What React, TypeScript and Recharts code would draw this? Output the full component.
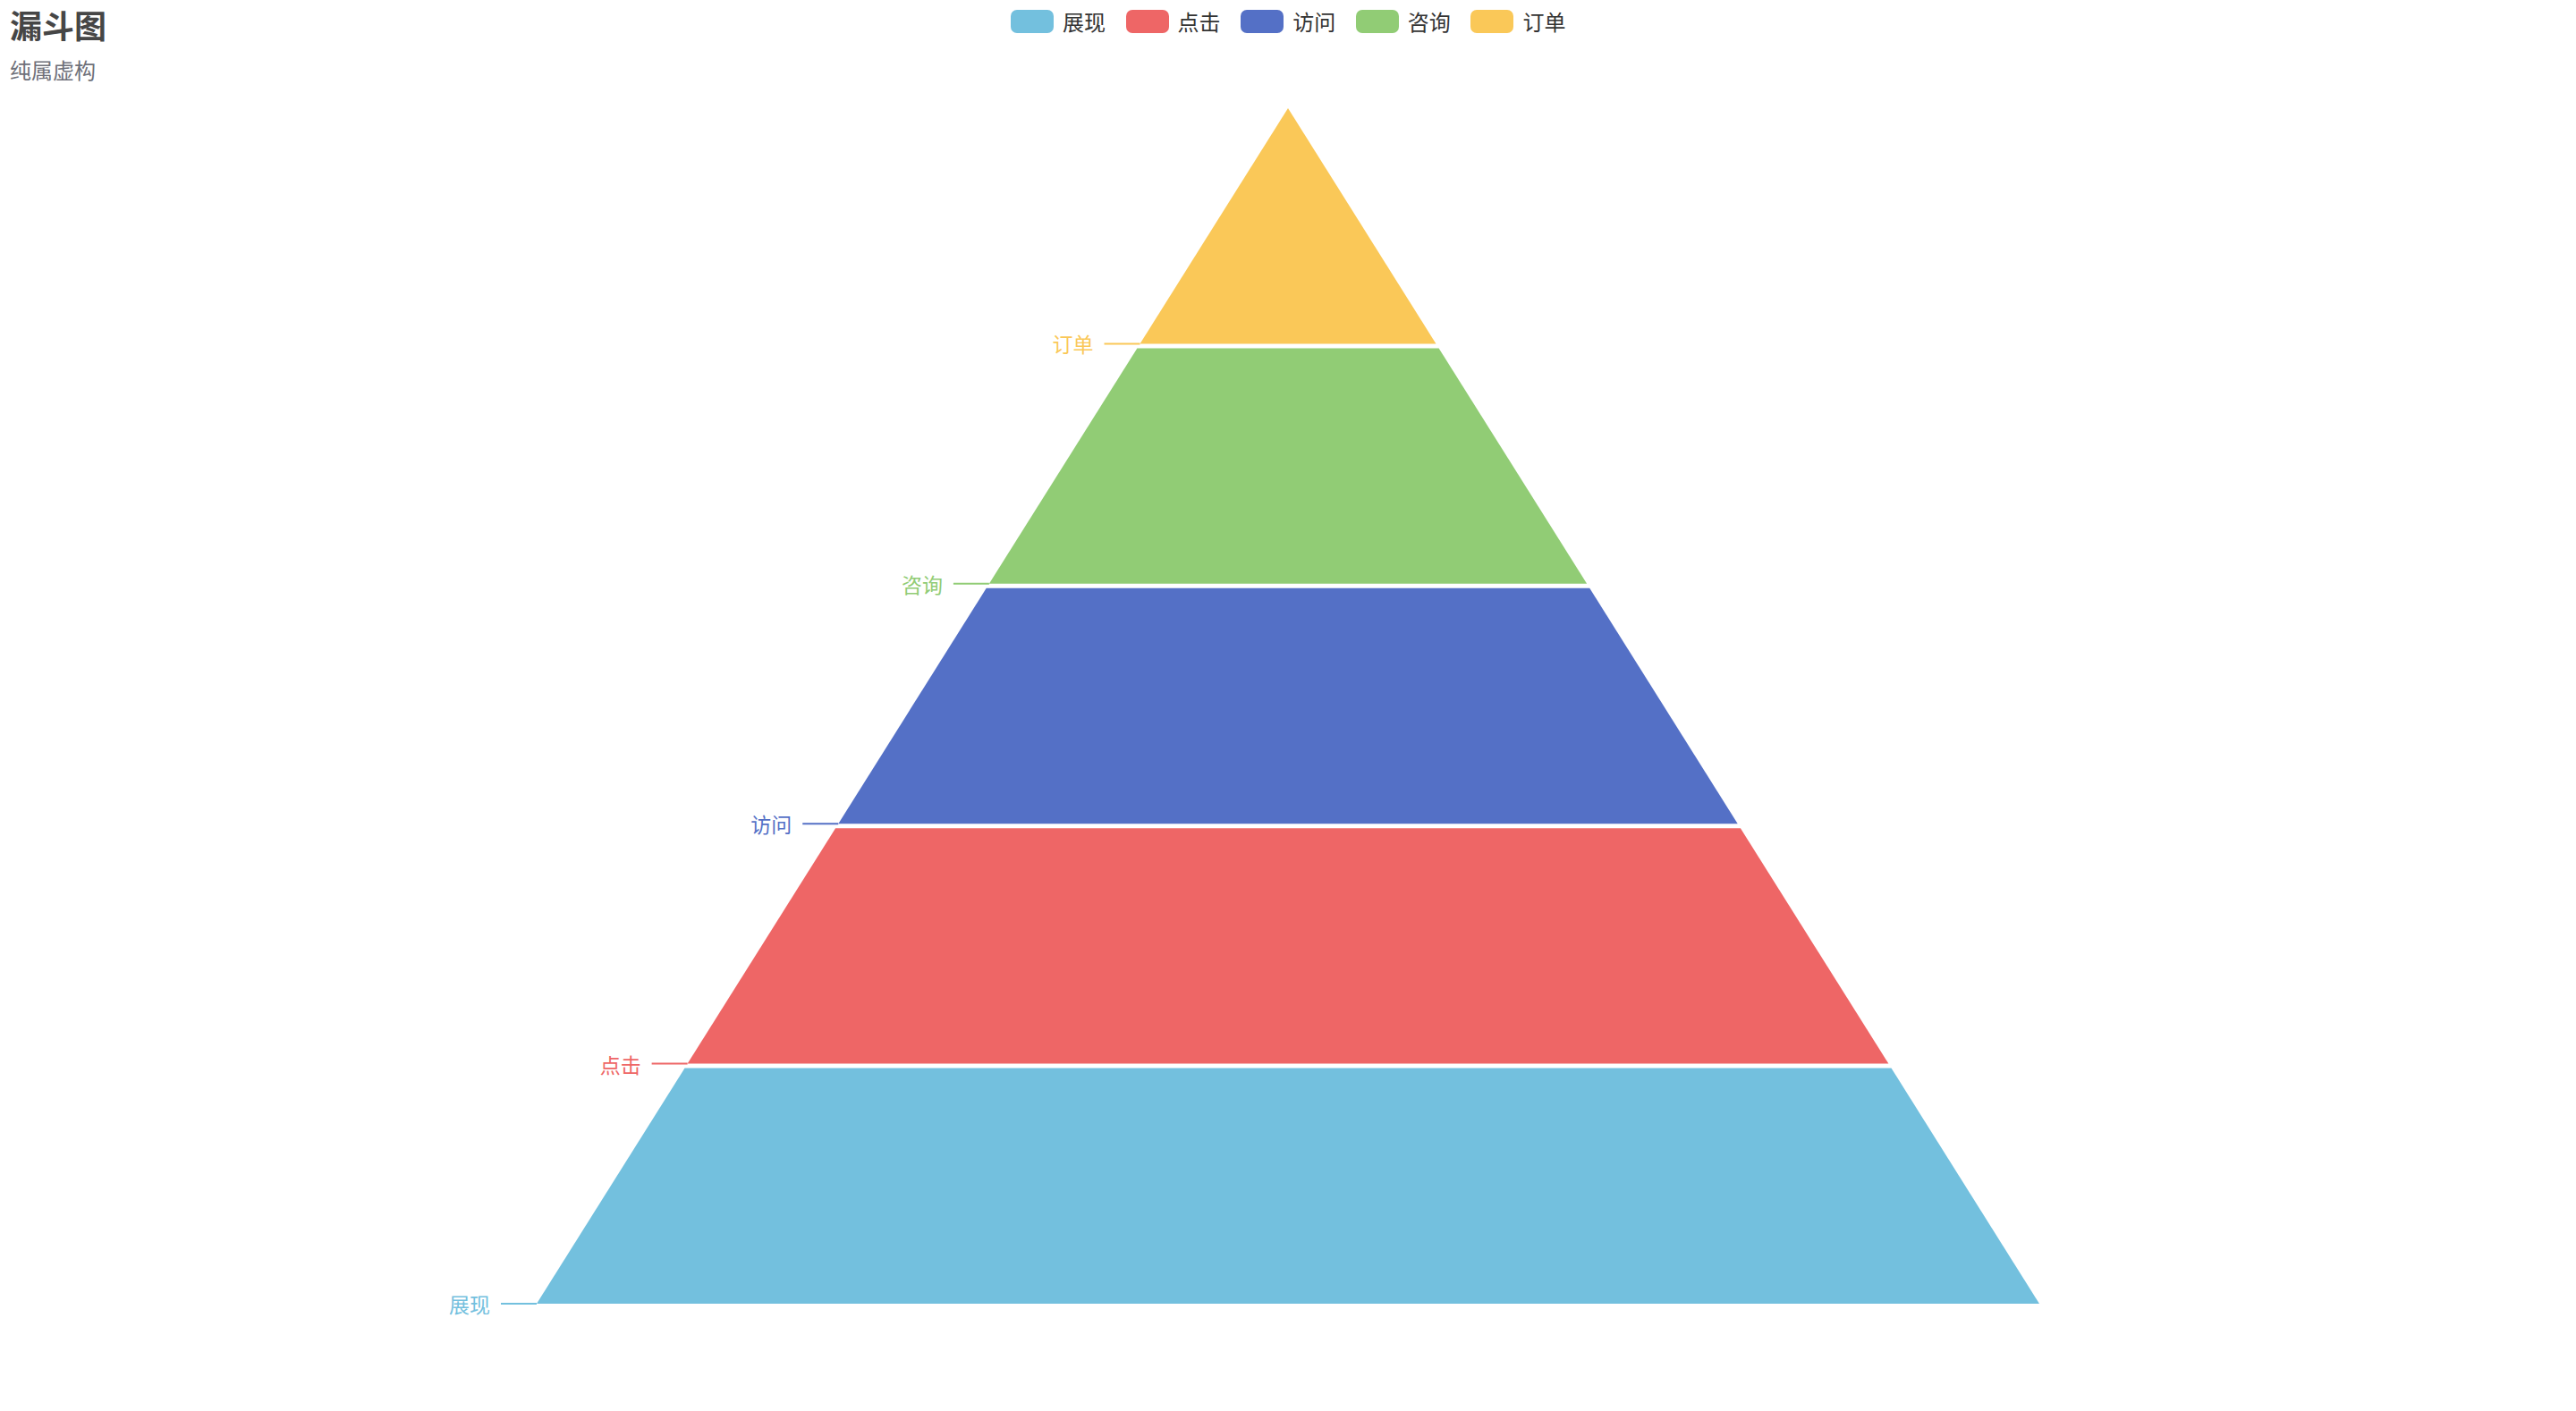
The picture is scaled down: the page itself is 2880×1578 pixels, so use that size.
import { FunnelChart, Funnel, Cell } from 'recharts';

const stageNames = ['展现', '点击', '访问', '咨询', '订单'];
const stageValues = [100, 80, 60, 40, 20];
const stageColors = ['#73c0de', '#ee6666', '#5470c6', '#91cc75', '#fac858'];

const titleText = '漏斗图';
const subtitleText = '纯属虚构';

const FONT = '"Noto Sans CJK SC", "Noto Sans", sans-serif';
const GAP = 5;

const data = stageNames.map((name, i) => ({ name, value: stageValues[i], fill: stageColors[i] }));

function Segment(props: any) {
  const { x, y, upperWidth, lowerWidth, height, name } = props;
  const idx = stageNames.indexOf(name);
  const n = stageNames.length;
  const k = n - 1 - idx; // position from the top
  const color = stageColors[idx];
  const cx = x + upperWidth / 2;
  // equal block heights with gaps in between (like echarts' gap option)
  const t0 = (k * GAP) / n / height;
  const t1 = 1 - ((n - 1 - k) * GAP) / n / height;
  const wAt = (t: number) => upperWidth + (lowerWidth - upperWidth) * t;
  const yTop = y + height * t0;
  const yBot = y + height * t1;
  const wTop = wAt(t0);
  const wBot = wAt(t1);
  const d = `M${cx - wTop / 2},${yTop} L${cx + wTop / 2},${yTop} L${cx + wBot / 2},${yBot} L${cx - wBot / 2},${yBot} Z`;
  const lx = cx - wBot / 2;
  return (
    <g>
      <path d={d} fill={color} stroke="none" />
      <line x1={lx - 40} y1={yBot} x2={lx} y2={yBot} stroke={color} strokeWidth={2} />
      <text
        x={lx - 52}
        y={yBot}
        textAnchor="end"
        dominantBaseline="central"
        fill={color}
        fontSize={23}
        fontFamily={FONT}
      >
        {name}
      </text>
    </g>
  );
}

export default function App() {
  return (
    <div style={{ position: 'absolute', left: 0, top: 0, width: 2880, height: 1578, background: '#fff', fontFamily: FONT }}>
      <div style={{ position: 'absolute', left: 11, top: 5, fontSize: 36, fontWeight: 'bold', color: '#464646', lineHeight: '44px' }}>
        {titleText}
      </div>
      <div style={{ position: 'absolute', left: 11, top: 63, fontSize: 24, color: '#6e7079', lineHeight: '30px' }}>
        {subtitleText}
      </div>
      {stageNames.map((name, i) => (
        <div
          key={name}
          style={{ position: 'absolute', left: 1130 + i * 128.6, top: 11, height: 26, display: 'flex', alignItems: 'center' }}
        >
          <div style={{ width: 48, height: 26, borderRadius: 7, background: stageColors[i] }} />
          <span style={{ marginLeft: 10, fontSize: 24, color: '#333', lineHeight: '26px' }}>{name}</span>
        </div>
      ))}
      <div style={{ position: 'absolute', left: 0, top: 0 }}>
        <FunnelChart width={2880} height={1578} margin={{ top: 121, right: 600, bottom: 120, left: 600 }}>
          <Funnel
            dataKey="value"
            nameKey="name"
            data={data}
            reversed
            lastShapeType="triangle"
            isAnimationActive={false}
            shape={(p: any) => <Segment {...p} />}
          >
            {data.map((d) => (
              <Cell key={d.name} fill={d.fill} />
            ))}
          </Funnel>
        </FunnelChart>
      </div>
    </div>
  );
}
